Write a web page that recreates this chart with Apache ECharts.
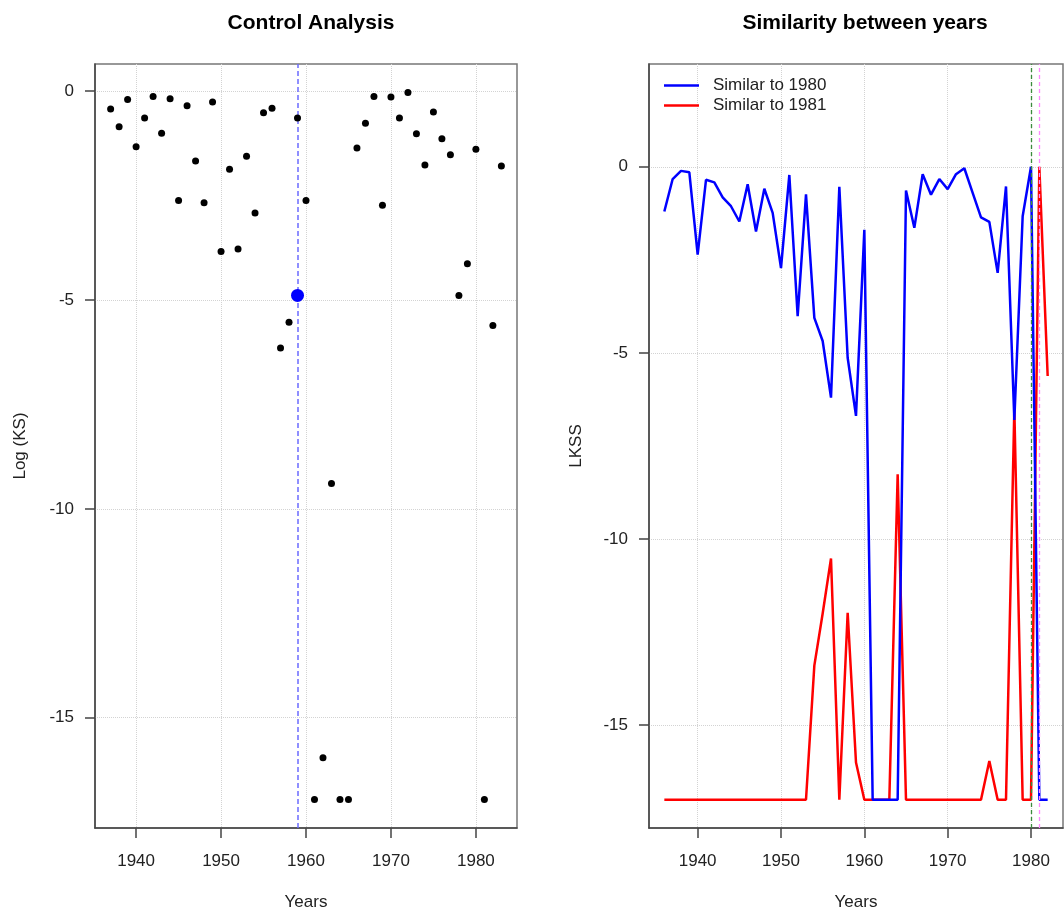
<!DOCTYPE html>
<html>
<head>
<meta charset="utf-8">
<script src="https://cdn.jsdelivr.net/npm/echarts@6/dist/echarts.min.js"></script>
<style>html,body{margin:0;padding:0;background:#fff;}#c{width:1064px;height:911px;}</style>
</head>
<body>
<div id="c"></div>
<script>
// ---- Data ----
const yearTicks = [1940, 1950, 1960, 1970, 1980];
const yTicks = [0, -5, -10, -15];

// Left panel: Control Analysis (Log KS), years 1937..1983
const leftYears = [1937,1938,1939,1940,1941,1942,1943,1944,1945,1946,1947,1948,1949,1950,1951,1952,1953,1954,1955,1956,1957,1958,1959,1960,1961,1962,1963,1964,1965,1966,1967,1968,1969,1970,1971,1972,1973,1974,1975,1976,1977,1978,1979,1980,1981,1982,1983];
const leftLogKS = [-0.43,-0.85,-0.20,-1.33,-0.64,-0.13,-1.01,-0.18,-2.62,-0.35,-1.67,-2.67,-0.26,-3.84,-1.87,-3.78,-1.56,-2.92,-0.52,-0.41,-6.15,-5.53,-0.64,-2.62,-16.96,-15.96,-9.39,-16.96,-16.96,-1.36,-0.77,-0.13,-2.73,-0.14,-0.64,-0.03,-1.02,-1.77,-0.50,-1.14,-1.52,-4.89,-4.13,-1.39,-16.96,-5.61,-1.79];
const controlYear = 1959;
const controlValue = -4.89;

// Right panel: Similarity between years (LKSS), years 1936..1982
const rightYears = [1936,1937,1938,1939,1940,1941,1942,1943,1944,1945,1946,1947,1948,1949,1950,1951,1952,1953,1954,1955,1956,1957,1958,1959,1960,1961,1962,1963,1964,1965,1966,1967,1968,1969,1970,1971,1972,1973,1974,1975,1976,1977,1978,1979,1980,1981,1982];
const similar1980 = [-1.20,-0.33,-0.11,-0.15,-2.36,-0.35,-0.42,-0.82,-1.06,-1.47,-0.47,-1.74,-0.59,-1.24,-2.72,-0.22,-4.01,-0.74,-4.06,-4.68,-6.20,-0.54,-5.13,-6.69,-1.69,-17,-17,-17,-17,-0.64,-1.64,-0.20,-0.75,-0.33,-0.60,-0.20,-0.04,-0.70,-1.36,-1.48,-2.85,-0.53,-6.80,-1.33,0,-17,-17];
const similar1981 = [-17,-17,-17,-17,-17,-17,-17,-17,-17,-17,-17,-17,-17,-17,-17,-17,-17,-17,-13.40,-12.0,-10.52,-17,-11.98,-16.0,-17,-17,-17,-17,-8.26,-17,-17,-17,-17,-17,-17,-17,-17,-17,-17,-15.96,-17,-17,-6.50,-17,-17,0,-5.62];
const refYearA = 1980;
const refYearB = 1981;

// ---- Chart ----
const FONT = "'Liberation Sans', Arial, Helvetica, sans-serif";
const pair = (xs, ys) => xs.map((x, i) => [x, ys[i]]);

function xAxisCfg(grid, min, max) {
  return {
    gridIndex: grid, type: 'value', min: min, max: max,
    axisLine: { show: true, onZero: false, lineStyle: { color: '#444', width: 1.5 } },
    axisTick: { show: true, length: 10, customValues: yearTicks, lineStyle: { color: '#444', width: 1.5 } },
    axisLabel: { customValues: yearTicks, margin: 25, fontSize: 17, color: '#222', fontFamily: FONT,
                 formatter: v => String(v) },
    splitLine: { show: true, lineStyle: { color: '#d3d3d3', type: 'dotted', width: 1 } },
    name: 'Years', nameLocation: 'middle', nameGap: 66,
    nameTextStyle: { fontSize: 17, color: '#222', fontFamily: FONT }
  };
}
function yAxisCfg(grid, min, max, name, gap) {
  return {
    gridIndex: grid, type: 'value', min: min, max: max,
    axisLine: { show: true, onZero: false, lineStyle: { color: '#444', width: 1.5 } },
    axisTick: { show: true, length: 10, customValues: yTicks, lineStyle: { color: '#444', width: 1.5 } },
    axisLabel: { customValues: yTicks, margin: 21, fontSize: 17, color: '#222', fontFamily: FONT,
                 formatter: v => String(v) },
    splitLine: { show: true, lineStyle: { color: '#d3d3d3', type: 'dotted', width: 1 } },
    name: name, nameLocation: 'middle', nameGap: gap, nameRotate: 90,
    nameTextStyle: { fontSize: 17, color: '#222', fontFamily: FONT }
  };
}

const chart = echarts.init(document.getElementById('c'), null, { renderer: 'canvas' });
chart.setOption({
  animation: false,
  backgroundColor: '#fff',
  title: [
    { text: 'Control Analysis', left: 306, top: 8, textAlign: 'center',
      textStyle: { fontFamily: FONT, fontSize: 21, fontWeight: 'bold', color: '#000' } },
    { text: 'Similarity between years', left: 860, top: 8, textAlign: 'center',
      textStyle: { fontFamily: FONT, fontSize: 21, fontWeight: 'bold', color: '#000' } }
  ],
  legend: {
    data: ['Similar to 1980', 'Similar to 1981'],
    orient: 'vertical', left: 659, top: 72,
    icon: 'rect',
    itemWidth: 35, itemHeight: 2.5, itemGap: 3,
    textStyle: { fontSize: 17, color: '#222', fontFamily: FONT, padding: [0, 0, 0, 9] }
  },
  grid: [
    { left: 95, top: 64, width: 422, height: 764, show: true, borderColor: '#777', borderWidth: 1.5,
      outerBoundsMode: 'none', containLabel: false },
    { left: 649, top: 64, width: 414, height: 764, show: true, borderColor: '#777', borderWidth: 1.5,
      outerBoundsMode: 'none', containLabel: false }
  ],
  xAxis: [xAxisCfg(0, 1935.16, 1984.84), xAxisCfg(1, 1934.16, 1983.84)],
  yAxis: [yAxisCfg(0, -17.64, 0.65, 'Log (KS)', 66), yAxisCfg(1, -17.76, 2.76, 'LKSS', 64)],
  series: [
    {
      name: 'Log KS', type: 'scatter', xAxisIndex: 0, yAxisIndex: 0,
      data: pair(leftYears, leftLogKS), symbolSize: 7, z: 3,
      itemStyle: { color: '#000', opacity: 1 },
      markLine: {
        silent: true, symbol: ['none', 'none'], label: { show: false }, z: 1,
        lineStyle: { color: '#6b6bff', type: [5, 3], width: 1.5 },
        data: [{ xAxis: controlYear }]
      }
    },
    {
      name: 'Control', type: 'scatter', xAxisIndex: 0, yAxisIndex: 0,
      data: [[controlYear, controlValue]], symbolSize: 13, z: 6,
      itemStyle: { color: '#0000ff', opacity: 1 }
    },
    {
      name: 'Similar to 1981', type: 'line', xAxisIndex: 1, yAxisIndex: 1,
      data: pair(rightYears, similar1981), symbol: 'none',
      lineStyle: { color: '#ff0000', width: 2.5 }, itemStyle: { color: '#ff0000' },
      markLine: {
        silent: true, symbol: ['none', 'none'], label: { show: false },
        data: [
          { xAxis: refYearA, lineStyle: { color: '#3c8c3c', type: [4, 3], width: 1.3 } },
          { xAxis: refYearB, lineStyle: { color: '#ff88ff', type: [4, 3], width: 1.3 } }
        ]
      }
    },
    {
      name: 'Similar to 1980', type: 'line', xAxisIndex: 1, yAxisIndex: 1,
      data: pair(rightYears, similar1980), symbol: 'none',
      lineStyle: { color: '#0000ff', width: 2.5 }, itemStyle: { color: '#0000ff' }
    }
  ]
});
</script>
</body>
</html>
